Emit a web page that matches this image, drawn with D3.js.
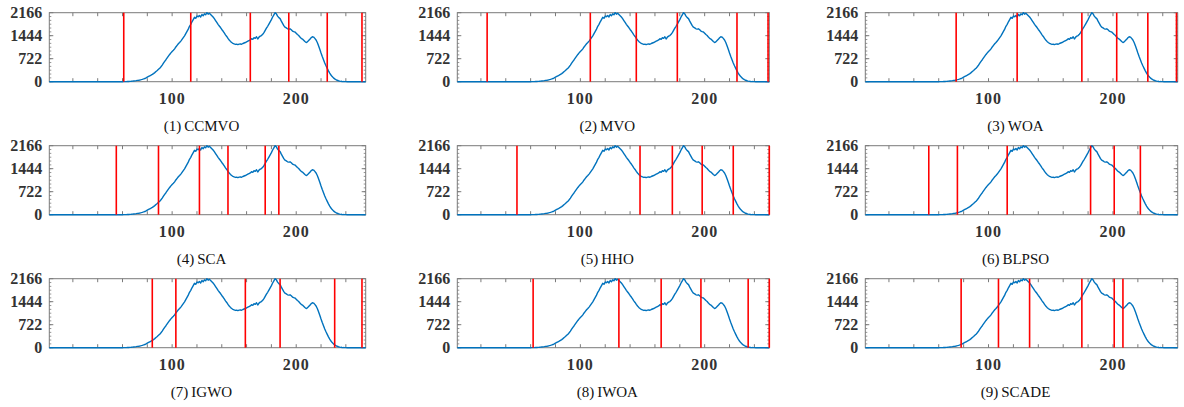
<!DOCTYPE html>
<html><head><meta charset="utf-8">
<script src="https://cdn.jsdelivr.net/npm/d3@7"></script>
<style>body{margin:0;background:#fff}svg{display:block}</style>
</head><body><svg id="c" width="1184" height="407"></svg>
<script>
// Histogram counts for gray levels 1..256
const counts = [
 0,0,0,0,0,0,0,0,0,0, 0,0,0,0,0,0,0,0,0,0, 0,0,0,0,0,0,0,0,0,0,
 0,0,0,0,0,0,0,0,0,0, 0,0,0,0,0,0,0,0,0,0, 0,0,0,0,0,0,0,0,0,0,
 1,2,3,5,7,10,13,17,22,27,
 33,40,47,55,64,75,87,100,120,145,
 165,185,205,228,255,285,320,352,388,425,
 468,520,580,640,690,745,800,855,905,950,
 985,1030,1090,1140,1190,1230,1275,1330,1385,1440,
 1510,1580,1650,1740,1800,1880,1950,2020,1990,2060,
 2040,2080,2030,2110,2070,2130,2100,2166,2120,2150,
 2110,2070,2030,1980,1920,1860,1800,1750,1700,1640,
 1590,1530,1470,1420,1360,1310,1265,1230,1205,1185,
 1170,1175,1165,1180,1185,1175,1200,1215,1230,1250,
 1270,1290,1310,1350,1330,1380,1360,1410,1340,1400,
 1430,1450,1490,1540,1610,1680,1740,1810,1880,1950,
 2030,2100,2166,2130,2060,2010,1980,1900,1830,1760,
 1710,1690,1660,1650,1660,1630,1590,1570,1560,1520,
 1480,1450,1400,1360,1340,1300,1260,1230,1250,1290,
 1330,1380,1410,1400,1360,1310,1230,1130,1020,900,
 790,690,590,500,420,340,270,210,160,120,
 90,65,45,30,20,12,7,4,2,1,
 0,0,0,0,0,0,0,0,0,0,0,0,0,0,0,0
];
const grayLevels = d3.range(1, 257);

const methods = ["CCMVO","MVO","WOA","SCA","HHO","BLPSO","IGWO","IWOA","SCADE"];
const thresholds = [
  [61,115,163,194,225,253],
  [25,108,145,178,226,251],
  [74,123,175,203,228,251],
  [55,89,122,145,175,186],
  [49,148,174,198,223,252],
  [52,75,115,182,201,222],
  [84,103,159,187,231,253],
  [62,131,165,197,235,252],
  [78,108,133,175,201,208]
];
const yTickValues = [0,722,1444,2166];
const xTickLabels = [100,200];
const xTickValues = [20,40,60,80,100,120,140,160,180,200,220,240];
const yMax = 2166;
const xMaxByColumn = [256,252,252];

// layout
const colLeft = [49.3, 457.3, 865.3];
const colRight = [365.7, 769.3, 1177.7];
const rowTop = [12.7, 145.7, 278.7];
const plotH = 69;

const svg = d3.select("#c");
const serif = "'Liberation Serif','Times New Roman',serif";

methods.forEach((name, i) => {
  const r = Math.floor(i / 3), c = i % 3;
  const x = d3.scaleLinear().domain([1, xMaxByColumn[c]]).range([colLeft[c], colRight[c]]);
  const y = d3.scaleLinear().domain([0, yMax]).range([rowTop[r] + plotH, rowTop[r]]);
  const g = svg.append("g");
  const x0 = x.range()[0], x1 = x.range()[1], y0 = y.range()[0], y1 = y.range()[1];

  // frame
  g.append("rect").attr("x", x0).attr("y", y1).attr("width", x1 - x0).attr("height", y0 - y1)
    .attr("fill", "none").attr("stroke", "#7a7a7a").attr("stroke-width", 1);

  const tickColor = "#7a7a7a";
  // x ticks bottom & top (inward)
  const xt = xTickValues.filter(v => v <= xMaxByColumn[c]);
  g.selectAll(null).data(xt).enter().append("line")
    .attr("x1", d => x(d)).attr("x2", d => x(d)).attr("y1", y0).attr("y2", y0 - 3.5)
    .attr("stroke", tickColor);
  g.selectAll(null).data(xt).enter().append("line")
    .attr("x1", d => x(d)).attr("x2", d => x(d)).attr("y1", y1).attr("y2", y1 + 3.5)
    .attr("stroke", tickColor);
  // y minor ticks (left & right)
  const minor = d3.range(0, 18).map(k => k * yMax / 18);
  [x0, x1].forEach((ax, side) => {
    const dir = side === 0 ? 1 : -1;
    g.selectAll(null).data(minor).enter().append("line")
      .attr("x1", ax).attr("x2", ax + dir * 2).attr("y1", d => y(d)).attr("y2", d => y(d))
      .attr("stroke", tickColor).attr("stroke-width", 0.8);
    g.selectAll(null).data(yTickValues).enter().append("line")
      .attr("x1", ax).attr("x2", ax + dir * 4).attr("y1", d => y(d)).attr("y2", d => y(d))
      .attr("stroke", tickColor);
  });

  // y tick labels
  g.selectAll(null).data(yTickValues).enter().append("text")
    .attr("x", x0 - 7).attr("y", d => y(d)).attr("dy", "0.35em")
    .attr("text-anchor", "end").attr("font-family", serif).attr("font-weight", "bold")
    .attr("font-size", 16).attr("fill", "#333").text(d => d);
  // x tick labels
  g.selectAll(null).data(xTickLabels).enter().append("text")
    .attr("x", d => x(d)).attr("y", y0 + 22)
    .attr("text-anchor", "middle").attr("font-family", serif).attr("font-weight", "bold")
    .attr("font-size", 16).attr("letter-spacing", 1).attr("fill", "#333").text(d => d);

  // histogram line
  const line = d3.line().x((d, k) => x(grayLevels[k])).y(d => y(d));
  const visible = counts.filter((d, k) => grayLevels[k] <= xMaxByColumn[c]);
  g.append("path").datum(visible).attr("d", line)
    .attr("fill", "none").attr("stroke", "#0072BD").attr("stroke-width", 1.4)
    .attr("stroke-linejoin", "round");

  // threshold lines
  g.selectAll(null).data(thresholds[i]).enter().append("line")
    .attr("x1", d => x(d)).attr("x2", d => x(d)).attr("y1", y0).attr("y2", y1)
    .attr("stroke", "#ff0000").attr("stroke-width", 1.6);

  // caption
  g.append("text").attr("x", (x0 + x1) / 2 - 6).attr("y", y0 + 49)
    .attr("text-anchor", "middle").attr("font-family", serif).attr("font-size", 15)
    .attr("fill", "#111").text(`(${i + 1})\u2009${name}`);
});
</script></body></html>
